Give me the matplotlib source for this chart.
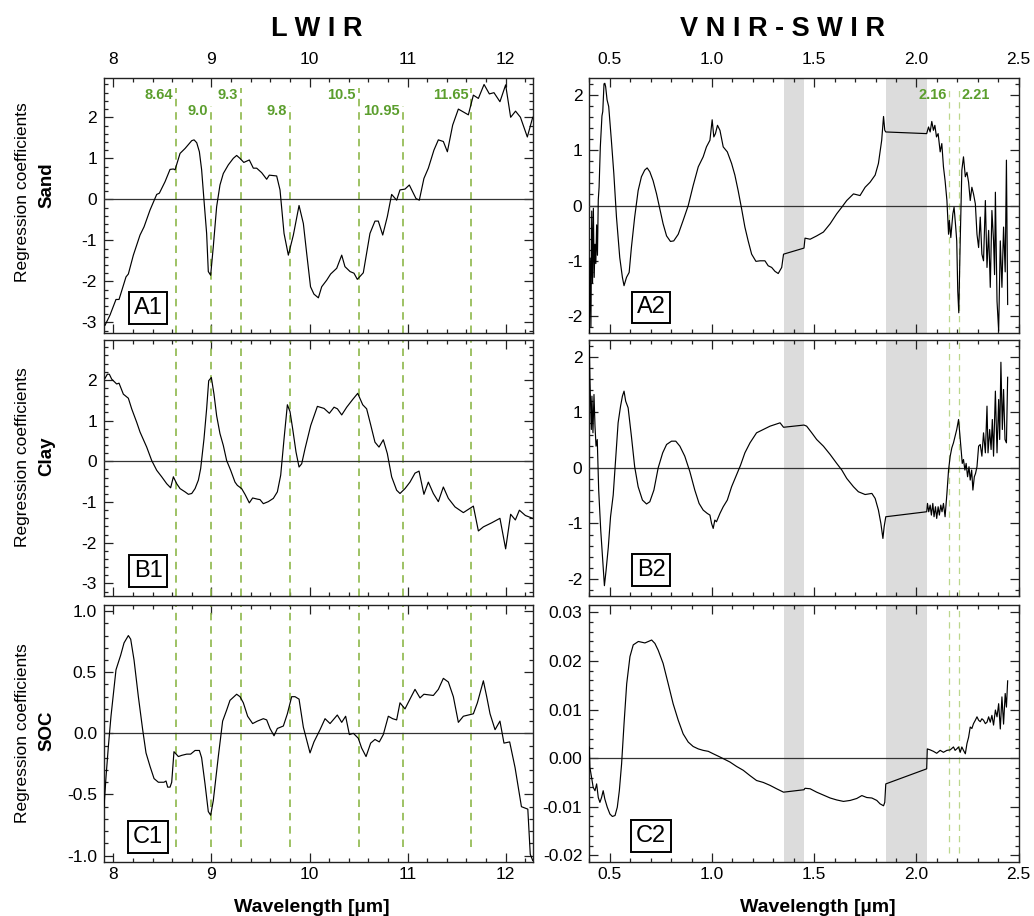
import numpy as np
import matplotlib.pyplot as plt
from matplotlib.ticker import AutoMinorLocator, MultipleLocator, FuncFormatter

plt.rcParams['font.family'] = ['Liberation Sans', 'DejaVu Sans']
plt.rcParams['axes.unicode_minus'] = False

# ---- LWIR regression coefficients (wavelength in um) ----
lwir_sand_x = [
    7.915, 7.966, 8.027, 8.058, 8.129, 8.153, 8.204, 8.272, 8.313, 8.374,
    8.442, 8.469, 8.527, 8.578, 8.612, 8.629, 8.680, 8.731, 8.799, 8.823,
    8.850, 8.877, 8.900, 8.924, 8.951, 8.968, 8.992, 9.019, 9.053, 9.087,
    9.121, 9.172, 9.223, 9.257, 9.290, 9.330, 9.386, 9.427, 9.461, 9.512,
    9.563, 9.590, 9.665, 9.699, 9.740, 9.784, 9.835, 9.893, 9.937, 9.971,
    10.010, 10.045, 10.090, 10.124, 10.175, 10.215, 10.277, 10.328, 10.361, 10.413,
    10.453, 10.487, 10.548, 10.616, 10.667, 10.701, 10.746, 10.793, 10.837, 10.888,
    10.922, 10.973, 11.017, 11.085, 11.119, 11.166, 11.211, 11.268, 11.313, 11.364,
    11.405, 11.459, 11.517, 11.619, 11.670, 11.721, 11.779, 11.833, 11.880, 11.941,
    11.999, 12.050, 12.100, 12.150, 12.220, 12.275]
lwir_sand_y = [
    -3.07, -2.82, -2.44, -2.44, -1.89, -1.82, -1.36, -0.87, -0.67, -0.26,
    0.12, 0.15, 0.43, 0.73, 0.74, 0.72, 1.12, 1.24, 1.43, 1.45,
    1.38, 1.16, 0.72, -0.02, -0.83, -1.76, -1.85, -1.15, -0.18, 0.35,
    0.63, 0.84, 1.00, 1.07, 1.00, 0.90, 0.96, 0.76, 0.76, 0.65,
    0.49, 0.59, 0.57, 0.23, -0.83, -1.36, -0.87, -0.15, -0.59, -1.32,
    -2.13, -2.31, -2.40, -2.13, -1.97, -1.82, -1.68, -1.36, -1.64, -1.76,
    -1.80, -1.95, -1.79, -0.83, -0.53, -0.53, -0.87, -0.42, 0.12, -0.02,
    0.23, 0.25, 0.35, 0.02, -0.02, 0.51, 0.76, 1.20, 1.45, 1.41,
    1.16, 1.81, 2.20, 2.06, 2.54, 2.46, 2.80, 2.57, 2.60, 2.38,
    2.79, 2.00, 2.15, 2.00, 1.52, 2.00]

lwir_clay_x = [
    7.915, 7.939, 7.959, 7.983, 8.034, 8.058, 8.102, 8.153, 8.187, 8.238,
    8.272, 8.340, 8.391, 8.442, 8.493, 8.544, 8.584, 8.612, 8.646, 8.680,
    8.731, 8.765, 8.799, 8.833, 8.867, 8.890, 8.924, 8.951, 8.972, 8.999,
    9.026, 9.053, 9.087, 9.121, 9.155, 9.196, 9.240, 9.264, 9.308, 9.342,
    9.386, 9.420, 9.471, 9.495, 9.529, 9.580, 9.631, 9.672, 9.706, 9.740,
    9.774, 9.801, 9.828, 9.862, 9.893, 9.920, 9.954, 10.012, 10.080, 10.148,
    10.202, 10.250, 10.284, 10.328, 10.379, 10.440, 10.491, 10.542, 10.582, 10.623,
    10.667, 10.708, 10.752, 10.793, 10.837, 10.888, 10.922, 10.973, 11.024, 11.075,
    11.116, 11.166, 11.211, 11.262, 11.313, 11.364, 11.415, 11.483, 11.568, 11.670,
    11.721, 11.772, 11.857, 11.941, 11.999, 12.050, 12.098, 12.139, 12.200, 12.275]
lwir_clay_y = [
    2.04, 2.14, 2.14, 2.02, 1.90, 1.92, 1.65, 1.55, 1.29, 0.96,
    0.72, 0.35, 0.02, -0.22, -0.38, -0.55, -0.65, -0.38, -0.55, -0.67,
    -0.75, -0.81, -0.79, -0.67, -0.46, -0.18, 0.55, 1.29, 1.98, 2.06,
    1.65, 1.12, 0.68, 0.39, 0.02, -0.22, -0.51, -0.59, -0.67, -0.81,
    -1.02, -0.90, -0.93, -0.94, -1.04, -0.99, -0.91, -0.75, -0.34, 0.55,
    1.39, 1.22, 0.80, 0.23, -0.14, -0.06, 0.31, 0.88, 1.35, 1.30,
    1.18, 1.33, 1.29, 1.14, 1.33, 1.52, 1.67, 1.39, 1.29, 0.90,
    0.47, 0.35, 0.53, 0.19, -0.38, -0.71, -0.79, -0.67, -0.51, -0.29,
    -0.24, -0.81, -0.51, -0.79, -0.99, -0.63, -0.91, -1.12, -1.26, -1.10,
    -1.71, -1.61, -1.51, -1.40, -2.15, -1.30, -1.44, -1.20, -1.33, -1.40]

lwir_soc_x = [
    7.905, 7.925, 7.949, 7.976, 8.027, 8.075, 8.109, 8.153, 8.177, 8.211,
    8.255, 8.299, 8.333, 8.374, 8.415, 8.459, 8.516, 8.537, 8.554, 8.578,
    8.595, 8.618, 8.663, 8.697, 8.748, 8.788, 8.833, 8.877, 8.900, 8.934,
    8.968, 8.992, 9.019, 9.070, 9.114, 9.155, 9.189, 9.257, 9.291, 9.325,
    9.369, 9.420, 9.468, 9.529, 9.563, 9.597, 9.638, 9.672, 9.733, 9.774,
    9.818, 9.852, 9.893, 9.937, 10.005, 10.045, 10.107, 10.158, 10.209, 10.283,
    10.328, 10.368, 10.406, 10.447, 10.497, 10.531, 10.576, 10.623, 10.667, 10.711,
    10.752, 10.803, 10.847, 10.888, 10.922, 10.973, 11.030, 11.075, 11.126, 11.166,
    11.262, 11.313, 11.364, 11.415, 11.466, 11.517, 11.568, 11.670, 11.711, 11.772,
    11.806, 11.840, 11.891, 11.941, 11.982, 12.040, 12.095, 12.160, 12.225, 12.250,
    12.275]
lwir_soc_y = [
    -0.60, -0.36, -0.11, 0.14, 0.52, 0.64, 0.74, 0.80, 0.77, 0.60,
    0.30, 0.03, -0.16, -0.27, -0.37, -0.40, -0.40, -0.39, -0.44, -0.44,
    -0.40, -0.15, -0.19, -0.18, -0.17, -0.17, -0.14, -0.14, -0.20, -0.41,
    -0.64, -0.67, -0.55, -0.19, 0.10, 0.19, 0.27, 0.32, 0.30, 0.25,
    0.14, 0.08, 0.10, 0.12, 0.11, 0.04, -0.02, 0.04, 0.06, 0.16,
    0.30, 0.30, 0.28, 0.05, -0.16, -0.07, 0.03, 0.12, 0.08, 0.15,
    0.09, 0.14, -0.01, 0.00, -0.04, -0.12, -0.19, -0.08, -0.05, -0.07,
    -0.01, 0.14, 0.12, 0.11, 0.25, 0.20, 0.29, 0.36, 0.29, 0.32,
    0.31, 0.36, 0.45, 0.42, 0.30, 0.09, 0.14, 0.16, 0.25, 0.43,
    0.30, 0.16, 0.03, 0.10, -0.08, -0.07, -0.28, -0.60, -0.62, -0.99,
    -1.04]

# ---- VNIR-SWIR regression coefficients (water bands removed) ----
vnir_sand_x = [
    0.400, 0.404, 0.408, 0.412, 0.416, 0.420, 0.424, 0.428, 0.432, 0.436,
    0.440, 0.444, 0.448, 0.454, 0.462, 0.466, 0.472, 0.476, 0.480, 0.487,
    0.495, 0.508, 0.520, 0.533, 0.549, 0.562, 0.570, 0.582, 0.595, 0.606,
    0.622, 0.639, 0.655, 0.671, 0.683, 0.696, 0.712, 0.729, 0.745, 0.761,
    0.778, 0.797, 0.813, 0.835, 0.859, 0.884, 0.908, 0.933, 0.957, 0.973,
    0.990, 1.001, 1.009, 1.017, 1.027, 1.039, 1.055, 1.075, 1.096, 1.112,
    1.128, 1.145, 1.161, 1.177, 1.194, 1.215, 1.235, 1.259, 1.275, 1.292,
    1.308, 1.324, 1.341, 1.350, 1.450, 1.455, 1.480, 1.512, 1.545, 1.578,
    1.610, 1.635, 1.659, 1.692, 1.724, 1.749, 1.773, 1.798, 1.814, 1.830,
    1.839, 1.845, 1.850, 2.050, 2.059, 2.067, 2.075, 2.083, 2.090, 2.098,
    2.106, 2.116, 2.124, 2.132, 2.140, 2.149, 2.157, 2.161, 2.168, 2.178,
    2.184, 2.192, 2.197, 2.202, 2.207, 2.214, 2.222, 2.230, 2.239, 2.247,
    2.255, 2.263, 2.271, 2.279, 2.288, 2.296, 2.304, 2.312, 2.320, 2.328,
    2.337, 2.345, 2.353, 2.361, 2.369, 2.377, 2.382, 2.386, 2.394, 2.402,
    2.410, 2.418, 2.426, 2.434, 2.440, 2.446]
vnir_sand_y = [
    -2.30, -0.95, -2.20, -0.10, -1.40, -0.05, -1.30, -0.70, -1.05, -0.35,
    -0.90, 0.10, 0.33, 1.06, 1.62, 1.70, 2.20, 2.21, 2.15, 1.91,
    1.79, 1.18, 0.58, -0.21, -0.94, -1.30, -1.45, -1.30, -1.21, -0.76,
    -0.21, 0.27, 0.52, 0.64, 0.68, 0.61, 0.45, 0.21, -0.06, -0.33,
    -0.55, -0.65, -0.64, -0.52, -0.27, 0.00, 0.36, 0.70, 0.88, 1.06,
    1.18, 1.55, 1.24, 1.30, 1.45, 1.36, 1.06, 0.97, 0.76, 0.55,
    0.27, -0.06, -0.39, -0.64, -0.88, -1.01, -1.00, -1.00, -1.09, -1.12,
    -1.19, -1.23, -1.12, -0.88, -0.77, -0.59, -0.61, -0.55, -0.48, -0.33,
    -0.15, -0.03, 0.09, 0.21, 0.18, 0.33, 0.42, 0.55, 0.76, 1.18,
    1.61, 1.36, 1.33, 1.30, 1.42, 1.33, 1.52, 1.36, 1.45, 1.24,
    1.30, 0.97, 1.12, 0.70, 0.45, 0.09, -0.52, -0.27, -0.58, -0.15,
    -0.03, -0.39, -0.64, -1.55, -1.94, -0.64, 0.64, 0.88, 0.52, 0.60,
    0.42, 0.09, 0.33, 0.21, 0.03, -0.52, -0.76, -0.21, -0.88, -1.00,
    0.09, -1.12, -0.45, -1.48, -0.09, -0.64, -1.25, 0.24, -1.73, -2.27,
    -0.64, -1.48, -0.39, -1.20, 0.82, -1.79]

vnir_clay_x = [
    0.400, 0.403, 0.410, 0.413, 0.418, 0.423, 0.428, 0.433, 0.439, 0.446,
    0.456, 0.466, 0.474, 0.482, 0.493, 0.504, 0.517, 0.530, 0.541, 0.553,
    0.562, 0.570, 0.578, 0.590, 0.606, 0.622, 0.639, 0.660, 0.680, 0.696,
    0.716, 0.737, 0.759, 0.778, 0.802, 0.823, 0.843, 0.867, 0.892, 0.916,
    0.937, 0.957, 0.977, 0.990, 0.998, 1.006, 1.014, 1.022, 1.039, 1.055,
    1.075, 1.096, 1.120, 1.140, 1.161, 1.186, 1.218, 1.251, 1.284, 1.308,
    1.333, 1.350, 1.450, 1.463, 1.488, 1.512, 1.545, 1.578, 1.610, 1.635,
    1.659, 1.692, 1.716, 1.749, 1.782, 1.798, 1.814, 1.826, 1.836, 1.842,
    1.850, 2.050, 2.054, 2.060, 2.067, 2.073, 2.080, 2.086, 2.093, 2.099,
    2.106, 2.112, 2.119, 2.125, 2.132, 2.140, 2.149, 2.157, 2.165, 2.173,
    2.181, 2.189, 2.197, 2.206, 2.210, 2.217, 2.224, 2.230, 2.237, 2.243,
    2.250, 2.257, 2.263, 2.270, 2.276, 2.283, 2.289, 2.296, 2.304, 2.312,
    2.320, 2.328, 2.337, 2.345, 2.350, 2.358, 2.365, 2.371, 2.377, 2.386,
    2.394, 2.402, 2.407, 2.413, 2.420, 2.426, 2.433, 2.440, 2.446]
vnir_clay_y = [
    2.20, 1.60, 0.69, 1.29, 0.63, 1.32, 0.75, 0.39, 0.51, -0.40,
    -1.12, -1.67, -2.12, -1.85, -1.43, -0.88, -0.49, 0.21, 0.81, 1.11,
    1.29, 1.38, 1.20, 1.08, 0.57, 0.02, -0.34, -0.58, -0.65, -0.61,
    -0.40, 0.00, 0.27, 0.42, 0.48, 0.48, 0.39, 0.21, -0.07, -0.40,
    -0.64, -0.76, -0.82, -0.85, -1.00, -1.09, -0.94, -0.97, -0.82, -0.70,
    -0.58, -0.34, -0.13, 0.05, 0.27, 0.45, 0.63, 0.69, 0.75, 0.78,
    0.81, 0.73, 0.77, 0.75, 0.63, 0.51, 0.39, 0.24, 0.08, -0.04,
    -0.19, -0.34, -0.43, -0.48, -0.46, -0.55, -0.76, -1.00, -1.27, -1.06,
    -0.88, -0.79, -0.64, -0.79, -0.67, -0.85, -0.64, -0.88, -0.70, -0.91,
    -0.70, -0.85, -0.67, -0.79, -0.64, -0.88, -0.46, -0.04, 0.21, 0.36,
    0.45, 0.57, 0.69, 0.87, 0.69, 0.39, 0.08, 0.15, -0.04, 0.08,
    -0.16, 0.02, -0.22, -0.04, -0.40, -0.16, -0.10, 0.02, 0.39, 0.42,
    0.21, 0.63, 0.27, 1.11, 0.27, 0.69, 0.33, 0.87, 0.21, 1.38,
    0.27, 1.23, 0.51, 1.90, 0.69, 1.41, 0.51, 0.45, 1.63]

vnir_soc_x = [
    0.400, 0.403, 0.411, 0.419, 0.428, 0.436, 0.444, 0.452, 0.460, 0.468,
    0.476, 0.488, 0.501, 0.513, 0.526, 0.537, 0.547, 0.558, 0.570, 0.583,
    0.599, 0.615, 0.640, 0.672, 0.689, 0.705, 0.721, 0.737, 0.761, 0.786,
    0.810, 0.835, 0.859, 0.884, 0.908, 0.933, 0.957, 0.982, 1.006, 1.031,
    1.055, 1.088, 1.120, 1.153, 1.186, 1.218, 1.251, 1.284, 1.316, 1.350,
    1.450, 1.455, 1.480, 1.512, 1.545, 1.578, 1.610, 1.643, 1.676, 1.708,
    1.733, 1.757, 1.782, 1.806, 1.822, 1.839, 1.845, 1.850, 2.050, 2.053,
    2.067, 2.083, 2.099, 2.116, 2.132, 2.149, 2.165, 2.181, 2.189, 2.197,
    2.206, 2.214, 2.222, 2.230, 2.239, 2.247, 2.255, 2.263, 2.271, 2.279,
    2.288, 2.296, 2.304, 2.312, 2.320, 2.328, 2.337, 2.345, 2.353, 2.361,
    2.369, 2.377, 2.386, 2.394, 2.402, 2.410, 2.418, 2.426, 2.434, 2.440,
    2.446]
vnir_soc_y = [
    0.0023, -0.0019, -0.0039, -0.0060, -0.0067, -0.0053, -0.0081, -0.0091, -0.0081, -0.0067,
    -0.0084, -0.0101, -0.0115, -0.0120, -0.0118, -0.0101, -0.0067, -0.0012, 0.0071, 0.0153,
    0.0209, 0.0233, 0.0240, 0.0237, 0.0240, 0.0243, 0.0236, 0.0222, 0.0195, 0.0153,
    0.0112, 0.0078, 0.0050, 0.0033, 0.0024, 0.0019, 0.0016, 0.0014, 0.0009, 0.0004,
    -0.0001, -0.0008, -0.0017, -0.0025, -0.0036, -0.0046, -0.0050, -0.0056, -0.0063, -0.0070,
    -0.0065, -0.0062, -0.0063, -0.0070, -0.0076, -0.0082, -0.0086, -0.0089, -0.0087, -0.0083,
    -0.0077, -0.0081, -0.0082, -0.0087, -0.0094, -0.0098, -0.0091, -0.0053, -0.0022, 0.0019,
    0.0017, 0.0014, 0.0010, 0.0016, 0.0012, 0.0016, 0.0017, 0.0023, 0.0016, 0.0019,
    0.0023, 0.0012, 0.0023, 0.0016, 0.0009, 0.0030, 0.0043, 0.0064, 0.0061, 0.0071,
    0.0078, 0.0085, 0.0078, 0.0075, 0.0081, 0.0078, 0.0071, 0.0074, 0.0085, 0.0074,
    0.0088, 0.0068, 0.0099, 0.0085, 0.0112, 0.0060, 0.0126, 0.0070, 0.0133, 0.0105,
    0.0159]

properties = ['Sand', 'Clay', 'SOC']
panel_ids_lwir = ['A1', 'B1', 'C1']
panel_ids_vnir = ['A2', 'B2', 'C2']

lwir_bands = [8.64, 9.0, 9.3, 9.8, 10.5, 10.95, 11.65]
lwir_band_labels = ['8.64', '9.0', '9.3', '9.8', '10.5', '10.95', '11.65']
vnir_bands = [2.16, 2.21]
vnir_band_labels = ['2.16', '2.21']
water_bands = [(1.35, 1.45), (1.85, 2.05)]

lwir_curves = [(lwir_sand_x, lwir_sand_y), (lwir_clay_x, lwir_clay_y), (lwir_soc_x, lwir_soc_y)]
vnir_curves = [(vnir_sand_x, vnir_sand_y), (vnir_clay_x, vnir_clay_y), (vnir_soc_x, vnir_soc_y)]

GREEN_TXT = '#5b9e2d'
GREEN_LW = '#8db84a'
GREEN_VN = '#bcd78c'
SPINE = '#222222'

lwir_ylims = [(-3.25, 2.95), (-3.3, 2.98), (-1.05, 1.05)]
vnir_ylims = [(-2.3, 2.3), (-2.3, 2.3), (-0.0213, 0.0315)]
lwir_ystep = [1, 1, 0.5]
vnir_ystep = [1, 1, 0.01]
lwir_yfmt = ['%d', '%d', '%.1f']
vnir_yfmt = ['%d', '%d', '%.2f']

row_pos = [(0.6368, 0.2777), (0.3497, 0.2791), (0.0593, 0.2802)]
left_x0, left_w = 0.1006, 0.4146
right_x0, right_w = 0.5699, 0.4153


def fmt(pattern):
    def f(v, pos):
        v = round(v, 6)
        if v == 0:
            v = 0.0
        return pattern % v
    return FuncFormatter(f)


def style(ax, xstep, ystep, xfmt, yfmt, row):
    ax.xaxis.set_major_locator(MultipleLocator(xstep))
    ax.yaxis.set_major_locator(MultipleLocator(ystep))
    ax.xaxis.set_minor_locator(AutoMinorLocator(5))
    ax.yaxis.set_minor_locator(AutoMinorLocator(5))
    ax.xaxis.set_major_formatter(fmt(xfmt))
    ax.yaxis.set_major_formatter(fmt(yfmt))
    ax.tick_params(which='both', direction='in', top=True, right=True,
                   color=SPINE, width=0.9, labelsize=12.5,
                   labeltop=(row == 0), labelbottom=(row == 2))
    ax.tick_params(which='major', length=6.5)
    ax.tick_params(which='minor', length=3.2)
    ax.tick_params(axis='y', pad=5)
    ax.tick_params(axis='x', which='both', pad=3.5)
    if row == 0:
        ax.xaxis.set_tick_params(which='both', pad=8)
    for sp in ax.spines.values():
        sp.set_color(SPINE)
        sp.set_linewidth(1.0)


def box_label(ax, text, x, y):
    ax.text(x, y, text, transform=ax.transAxes, ha='center', va='center',
            fontsize=17, zorder=6,
            bbox=dict(boxstyle='square,pad=0.2', fc='white', ec='black', lw=1.4))


fig = plt.figure(figsize=(10.34, 9.16), dpi=100)

for row in range(3):
    bottom, height = row_pos[row]

    # left column: LWIR
    ax = fig.add_axes([left_x0, bottom, left_w, height])
    x, y = lwir_curves[row]
    ax.plot(x, y, color='black', lw=0.85, zorder=4)
    ax.axhline(0, color='#333333', lw=0.9, zorder=3)
    ax.set_xlim(7.905, 12.275)
    ax.set_ylim(*lwir_ylims[row])
    for i, (wl, lab) in enumerate(zip(lwir_bands, lwir_band_labels)):
        upper = (i % 2 == 0)
        if row == 0:
            ytop = 0.962 if upper else 0.89
            ax.text(wl - 0.03, 0.934 if upper else 0.871, lab,
                    transform=ax.get_xaxis_transform(), ha='right', va='center',
                    fontsize=10.5, fontweight='bold', color=GREEN_TXT)
        else:
            ytop = 1.0
        ybot = 0.058 if row == 2 else 0.0
        ax.axvline(wl, ymin=ybot, ymax=ytop, color=GREEN_LW, lw=1.2,
                   linestyle=(0, (4.5, 3.5)), zorder=2)
    style(ax, 1, lwir_ystep[row], '%d', lwir_yfmt[row], row)
    box_label(ax, panel_ids_lwir[row], 0.103, 0.097)

    # right column: VNIR-SWIR
    ax = fig.add_axes([right_x0, bottom, right_w, height])
    for lo, hi in water_bands:
        ax.axvspan(lo, hi, color='#dcdcdc', lw=0, zorder=1)
    x, y = vnir_curves[row]
    ax.plot(x, y, color='black', lw=0.85, zorder=4)
    ax.axhline(0, color='#333333', lw=0.9, zorder=3)
    ax.set_xlim(0.4, 2.5)
    ax.set_ylim(*vnir_ylims[row])
    for i, (wl, lab) in enumerate(zip(vnir_bands, vnir_band_labels)):
        ytop = 0.955 if row == 0 else 1.0
        ybot = 0.034 if row == 2 else 0.0
        ax.axvline(wl, ymin=ybot, ymax=ytop, color=GREEN_VN, lw=0.9,
                   linestyle=(0, (5, 4)), zorder=2)
        if row == 0:
            if i == 0:
                ax.text(wl - 0.012, 0.934, lab, transform=ax.get_xaxis_transform(),
                        ha='right', va='center', fontsize=10.5,
                        fontweight='bold', color=GREEN_TXT)
            else:
                ax.text(wl + 0.012, 0.934, lab, transform=ax.get_xaxis_transform(),
                        ha='left', va='center', fontsize=10.5,
                        fontweight='bold', color=GREEN_TXT)
    style(ax, 0.5, vnir_ystep[row], '%.1f', vnir_yfmt[row], row)
    box_label(ax, panel_ids_vnir[row], 0.144, 0.10)

# row labels
ylab_centres = [(0.7907, 0.798), (0.5005, 0.5024), (0.1998, 0.202)]
for (yc1, yc2), prop in zip(ylab_centres, properties):
    fig.text(0.0222, yc1, 'Regression coefficients', rotation=90,
             ha='center', va='center', fontsize=12.5)
    fig.text(0.0455, yc2, prop, rotation=90, ha='center', va='center',
             fontsize=13.5, fontweight='bold')

# column titles and x labels
fig.text(0.3063, 0.9607, 'L W I R', ha='center', va='baseline',
         fontsize=19.5, fontweight='bold')
fig.text(0.7568, 0.9607, 'V N I R - S W I R', ha='center', va='baseline',
         fontsize=19.5, fontweight='bold')
fig.text(0.3014, 0.0047, 'Wavelength [µm]', ha='center', va='baseline',
         fontsize=14, fontweight='bold')
fig.text(0.7906, 0.0047, 'Wavelength [µm]', ha='center', va='baseline',
         fontsize=14, fontweight='bold')

fig.savefig('out.png', dpi=100, facecolor='white')
